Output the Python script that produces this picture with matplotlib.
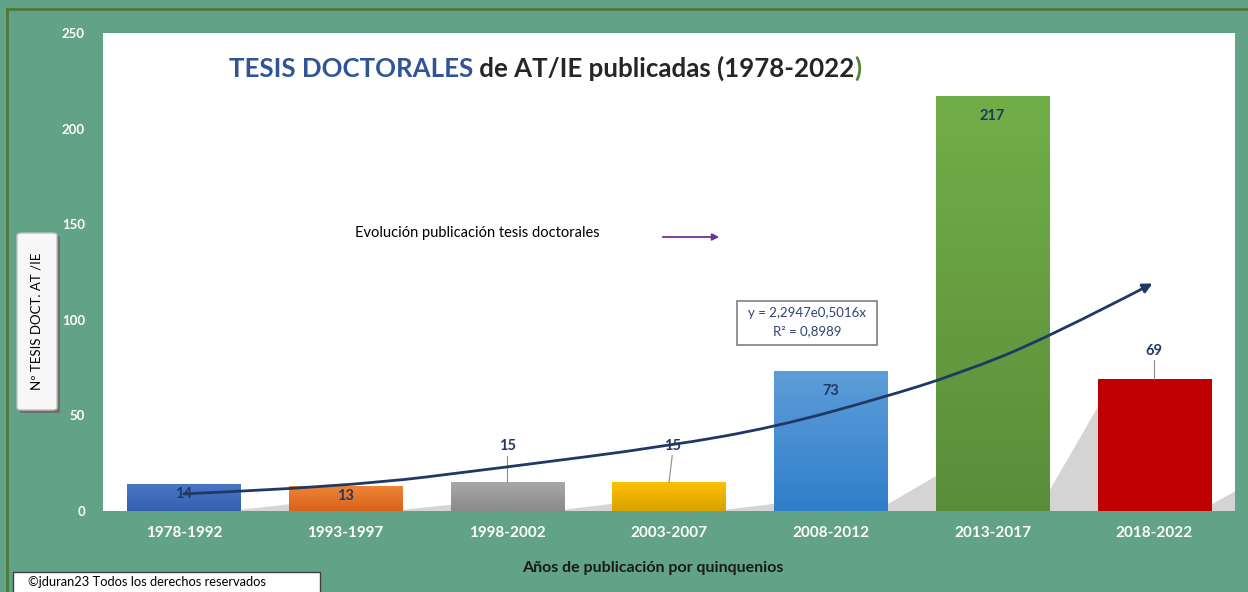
import numpy as np
import matplotlib
matplotlib.use("Agg")
import matplotlib.pyplot as plt
from matplotlib.colors import LinearSegmentedColormap
from matplotlib.patches import Rectangle, FancyBboxPatch, Polygon, FancyArrowPatch
from matplotlib.path import Path
from matplotlib.lines import Line2D

# --- data ---
periods = ["1978-1992", "1993-1997", "1998-2002", "2003-2007",
           "2008-2012", "2013-2017", "2018-2022"]
tesis = [14, 13, 15, 15, 73, 217, 69]
label_inside = [True, True, False, False, True, True, False]

top_colors = ["#4A76C6", "#EF8436", "#A8A8A8", "#FFC000", "#5E9DD8", "#72AE48", "#C00000"]
bottom_colors = ["#3560B2", "#D9621C", "#8A8A8A", "#D8A200", "#2F7ECB", "#5A8D3A", "#C00000"]

# hand-drawn "evolution" arrow (x in category units)
arrow_x = [0.0, 0.99, 2.0, 3.0, 3.66, 4.31, 4.80, 5.34, 5.99]
arrow_y = [9, 12.5, 23, 34, 44, 59, 72, 90.5, 119]

eq_lines = ["y = 2,2947e0,5016x", "R\u00b2 = 0,8989"]

BG = "#62A388"
NAVY = "#1F3864"

plt.rcParams['font.family'] = ['Lato', 'DejaVu Sans']

W, H = 1248, 592
fig = plt.figure(figsize=(W / 100, H / 100), dpi=100)
fig.patch.set_facecolor(BG)


def fx(x):
    return x / W


def fy(y):
    return (H - y) / H


ax = fig.add_axes([fx(103), fy(511), fx(1235) - fx(103), fy(33) - fy(511)])
ax.set_facecolor("white")
for s in ax.spines.values():
    s.set_visible(False)

x = np.arange(len(periods))
bw = 0.7

# shadows behind the bars
for i, h in enumerate(tesis):
    xr = x[i] + bw / 2
    ch = 0.27 * h
    d = 0.4
    shadow = Polygon([(xr - 0.07, 0), (xr + 0.3, 0), (xr + 0.3 + d, ch), (xr - 0.07 + d, ch)],
                     closed=True, facecolor="#d4d4d4", edgecolor="none", zorder=1)
    ax.add_patch(shadow)

# bars with vertical gradient
grad = np.linspace(0, 1, 256).reshape(-1, 1)
bars = ax.bar(x, tesis, width=bw, color=bottom_colors, edgecolor="none", zorder=2)
for i, b in enumerate(bars):
    cmap = LinearSegmentedColormap.from_list("g%d" % i, [bottom_colors[i], top_colors[i]])
    im = ax.imshow(grad, extent=(x[i] - bw / 2, x[i] + bw / 2, 0, tesis[i]),
                   origin="lower", cmap=cmap, aspect="auto", zorder=2.5)
    im.set_clip_path(b)

ax.set_xlim(-0.5, 6.5)
ax.set_ylim(0, 250)

# value labels
for i, h in enumerate(tesis):
    if label_inside[i]:
        off = -9 if h > 50 else -2
        ax.annotate(str(h), (x[i], h), xytext=(0, off), textcoords="offset points",
                    ha="center", va="top", color=NAVY, fontsize=10.5, fontweight="bold", zorder=6)
    else:
        dx = 0.02 if i == 3 else 0
        ax.plot([x[i], x[i] + dx], [h, h + 14 if h < 50 else h + 10], color="#8c8c8c", lw=0.8, zorder=3)
        ax.annotate(str(h), (x[i] + dx, h), xytext=(0, 26 if h < 50 else 20), textcoords="offset points",
                    ha="center", va="center", color=NAVY, fontsize=10.5, fontweight="bold", zorder=6)

# evolution arrow: smooth quadratic path through the read points
verts = [(arrow_x[0], arrow_y[0])]
codes = [Path.MOVETO]
for k in range(1, len(arrow_x) - 1):
    mx = (arrow_x[k] + arrow_x[k + 1]) / 2
    my = (arrow_y[k] + arrow_y[k + 1]) / 2
    if k == len(arrow_x) - 2:
        mx, my = arrow_x[-1], arrow_y[-1]
    verts += [(arrow_x[k], arrow_y[k]), (mx, my)]
    codes += [Path.CURVE3, Path.CURVE3]
ax.add_patch(FancyArrowPatch(path=Path(verts, codes), arrowstyle="-|>", mutation_scale=14,
                             color=NAVY, lw=2, zorder=5))

# ticks
ax.set_xticks(x)
ax.set_xticklabels(periods)
ax.set_yticks(range(0, 251, 50))
ax.tick_params(axis="x", length=0, pad=11, labelcolor="white", labelsize=11)
ax.tick_params(axis="y", length=0, pad=13, labelcolor="white", labelsize=9.5)
for t in ax.get_xticklabels() + ax.get_yticklabels():
    t.set_fontweight("bold")

# title in three colours
t1 = fig.text(fx(229), fy(77), "TESIS DOCTORALES", color="#2F5597",
              fontsize=18.6, fontweight="bold", va="baseline")
t2 = ax.annotate(" de AT/IE publicadas (1978-2022", xy=(1, 0), xycoords=t1, va="bottom",
                 color="#262626", fontsize=18.6, fontweight="bold")
ax.annotate(")", xy=(1, 0), xycoords=t2, va="bottom", color="#548235",
            fontsize=18.6, fontweight="bold")

# evolution legend text + purple arrow
fig.text(fx(355), fy(233), "Evoluci\u00f3n publicaci\u00f3n tesis doctorales",
         fontsize=10.5, color="black", va="center")
fig.add_artist(FancyArrowPatch((fx(660), fy(237)), (fx(722), fy(237)),
                               transform=fig.transFigure, arrowstyle="-|>",
                               mutation_scale=10, color="#7030A0", lw=1.3))

# equation box
fig.add_artist(Rectangle((fx(737), fy(345)), fx(877) - fx(737), fy(301) - fy(345),
                         transform=fig.transFigure, facecolor="white", edgecolor="#7f7f7f", lw=1.2))
fig.text(fx(807), fy(313), eq_lines[0], ha="center", va="center", fontsize=9.5, color="#2E4372")
fig.text(fx(807), fy(331), eq_lines[1], ha="center", va="center", fontsize=9.5, color="#2E4372")

# x axis label
fig.text(fx(653), fy(568), "A\u00f1os de publicaci\u00f3n por quinquenios", ha="center", va="center",
         fontsize=11.5, fontweight="bold", color="#1a1a1a")

# y label box
fig.add_artist(Rectangle((fx(20), fy(413)), fx(57) - fx(17), fy(233) - fy(410),
                         transform=fig.transFigure, facecolor="#6f6f6f", edgecolor="none"))
fig.add_artist(FancyBboxPatch((fx(17), fy(410)), fx(57) - fx(17), fy(233) - fy(410),
                              boxstyle="round,pad=0,rounding_size=0.004",
                              transform=fig.transFigure, facecolor="#f7f7f7", edgecolor="#bfbfbf", lw=1))
fig.text(fx(37), fy(321), "N\u00ba TESIS DOCT. AT /IE", rotation=90, ha="center", va="center",
         fontsize=9.5, color="black")

# copyright box
fig.add_artist(Rectangle((fx(13), fy(595)), fx(320) - fx(13), fy(572) - fy(595),
                         transform=fig.transFigure, facecolor="white", edgecolor="#404040", lw=1))
fig.text(fx(28), fy(582), "\u00a9jduran23 Todos los derechos reservados", va="center",
         fontsize=9.3, color="black")

# outer chart border
fig.add_artist(Line2D([fx(7), fx(7)], [fy(9), 0], transform=fig.transFigure, color="#4E7A3A", lw=2))
fig.add_artist(Line2D([fx(7), 1], [fy(9), fy(9)], transform=fig.transFigure, color="#4E7A3A", lw=2))

fig.savefig("out.png", dpi=100, facecolor=BG)
